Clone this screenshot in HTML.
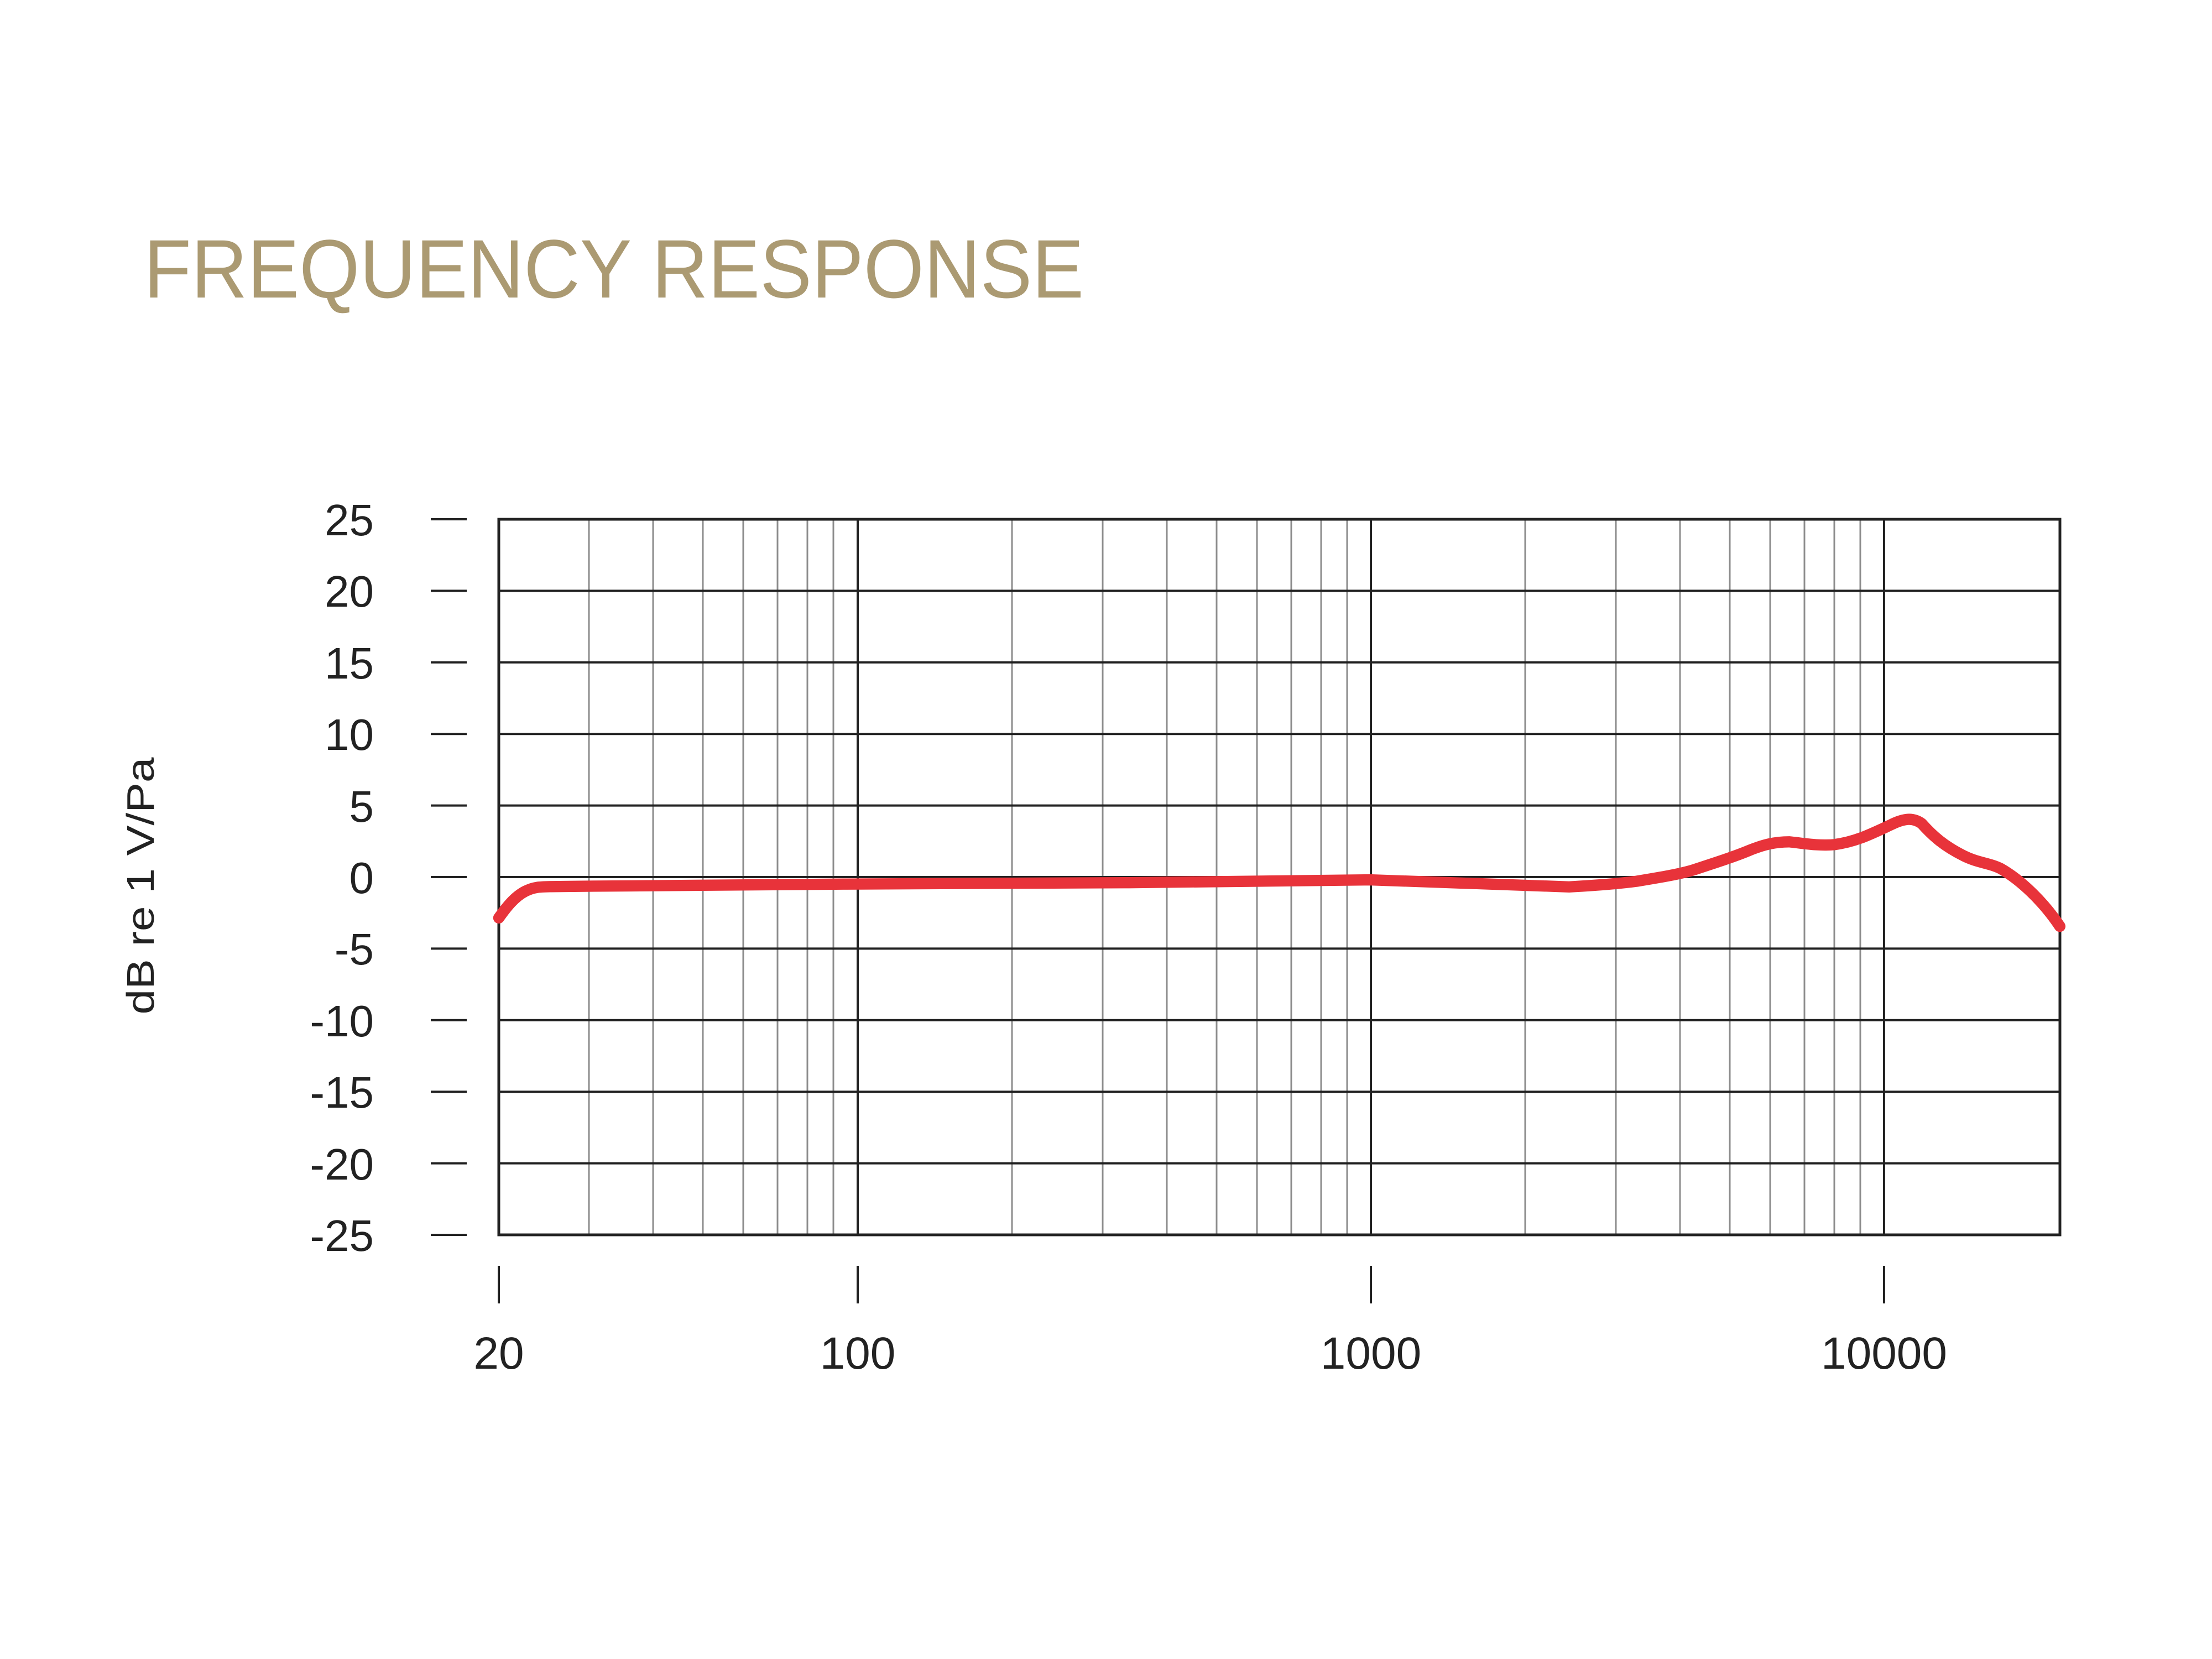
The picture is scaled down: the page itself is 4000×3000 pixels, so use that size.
<!DOCTYPE html>
<html><head><style>
html,body{margin:0;padding:0;background:#fff;}
svg{display:block;}
text{font-family:"Liberation Sans",sans-serif;fill:#222;}
</style></head><body>
<svg width="4000" height="3000" viewBox="0 0 4000 3000" xmlns="http://www.w3.org/2000/svg">
<rect width="4000" height="3000" fill="#fff"/>
<text x="260" y="538" font-size="150" style="fill:#ab9a72" textLength="1700" lengthAdjust="spacingAndGlyphs">FREQUENCY RESPONSE</text>
<text transform="translate(278,1602) rotate(-90)" font-size="70" text-anchor="middle" textLength="465" lengthAdjust="spacingAndGlyphs">dB re 1 V/Pa</text>
<g stroke="#8c8c8c" stroke-width="3">
<line x1="1065" y1="939" x2="1065" y2="2233"/><line x1="1181" y1="939" x2="1181" y2="2233"/><line x1="1271" y1="939" x2="1271" y2="2233"/><line x1="1344" y1="939" x2="1344" y2="2233"/><line x1="1406" y1="939" x2="1406" y2="2233"/><line x1="1460" y1="939" x2="1460" y2="2233"/><line x1="1507" y1="939" x2="1507" y2="2233"/>
<line x1="1830" y1="939" x2="1830" y2="2233"/><line x1="1994" y1="939" x2="1994" y2="2233"/><line x1="2110" y1="939" x2="2110" y2="2233"/><line x1="2200" y1="939" x2="2200" y2="2233"/><line x1="2273" y1="939" x2="2273" y2="2233"/><line x1="2335" y1="939" x2="2335" y2="2233"/><line x1="2389" y1="939" x2="2389" y2="2233"/><line x1="2436" y1="939" x2="2436" y2="2233"/>
<line x1="2758" y1="939" x2="2758" y2="2233"/><line x1="2922" y1="939" x2="2922" y2="2233"/><line x1="3038" y1="939" x2="3038" y2="2233"/><line x1="3128" y1="939" x2="3128" y2="2233"/><line x1="3201" y1="939" x2="3201" y2="2233"/><line x1="3263" y1="939" x2="3263" y2="2233"/><line x1="3317" y1="939" x2="3317" y2="2233"/><line x1="3364" y1="939" x2="3364" y2="2233"/>
</g>
<g stroke="#222" stroke-width="4">
<line x1="1551" y1="939" x2="1551" y2="2233"/><line x1="2479" y1="939" x2="2479" y2="2233"/><line x1="3407" y1="939" x2="3407" y2="2233"/>
<line x1="902" y1="1068.4" x2="3725" y2="1068.4"/><line x1="902" y1="1197.8" x2="3725" y2="1197.8"/><line x1="902" y1="1327.2" x2="3725" y2="1327.2"/><line x1="902" y1="1456.6" x2="3725" y2="1456.6"/><line x1="902" y1="1586" x2="3725" y2="1586"/><line x1="902" y1="1715.4" x2="3725" y2="1715.4"/><line x1="902" y1="1844.8" x2="3725" y2="1844.8"/><line x1="902" y1="1974.2" x2="3725" y2="1974.2"/><line x1="902" y1="2103.6" x2="3725" y2="2103.6"/>
<rect x="902" y="939" width="2823" height="1294" fill="none" stroke-width="5"/>
<line x1="779" y1="939" x2="844" y2="939"/><line x1="779" y1="1068.4" x2="844" y2="1068.4"/><line x1="779" y1="1197.8" x2="844" y2="1197.8"/><line x1="779" y1="1327.2" x2="844" y2="1327.2"/><line x1="779" y1="1456.6" x2="844" y2="1456.6"/><line x1="779" y1="1586" x2="844" y2="1586"/><line x1="779" y1="1715.4" x2="844" y2="1715.4"/><line x1="779" y1="1844.8" x2="844" y2="1844.8"/><line x1="779" y1="1974.2" x2="844" y2="1974.2"/><line x1="779" y1="2103.6" x2="844" y2="2103.6"/><line x1="779" y1="2233" x2="844" y2="2233"/>
<line x1="902" y1="2289" x2="902" y2="2357"/><line x1="1551" y1="2289" x2="1551" y2="2357"/><line x1="2479" y1="2289" x2="2479" y2="2357"/><line x1="3407" y1="2289" x2="3407" y2="2357"/>
</g>
<g font-size="80" text-anchor="end">
<text x="676" y="968">25</text><text x="676" y="1097">20</text><text x="676" y="1227">15</text><text x="676" y="1356">10</text><text x="676" y="1486">5</text><text x="676" y="1615">0</text><text x="676" y="1744">-5</text><text x="676" y="1874">-10</text><text x="676" y="2003">-15</text><text x="676" y="2133">-20</text><text x="676" y="2262">-25</text>
</g>
<g font-size="82" text-anchor="middle">
<text x="902" y="2475">20</text><text x="1551" y="2475">100</text><text x="2479" y="2475">1000</text><text x="3407" y="2475">10000</text>
</g>
<g transform="translate(902,939) scale(2.55,2.547) translate(-353,-367)">
<path d="M353,650 C358,643 364,635 372,631 C378,628 382,628 390,627.8 L420,627.5 L600,626 L800,625 L971,623 C1010,624 1060,626 1112,628 C1130,627 1145,626 1160,624 C1178,621 1190,619 1200,616 C1215,611 1228,607 1240,602 C1250,598 1258,596 1268,596 C1278,597 1288,599 1300,598 C1315,596 1325,591 1340,584 C1348,580 1355,578 1362,583 C1370,592 1378,599 1392,606 C1402,611 1410,611 1418,615 C1432,623 1448,638 1460,656" fill="none" stroke="#e8333a" stroke-width="8" stroke-linecap="round" stroke-linejoin="round"/>
</g>
</svg>
</body></html>
